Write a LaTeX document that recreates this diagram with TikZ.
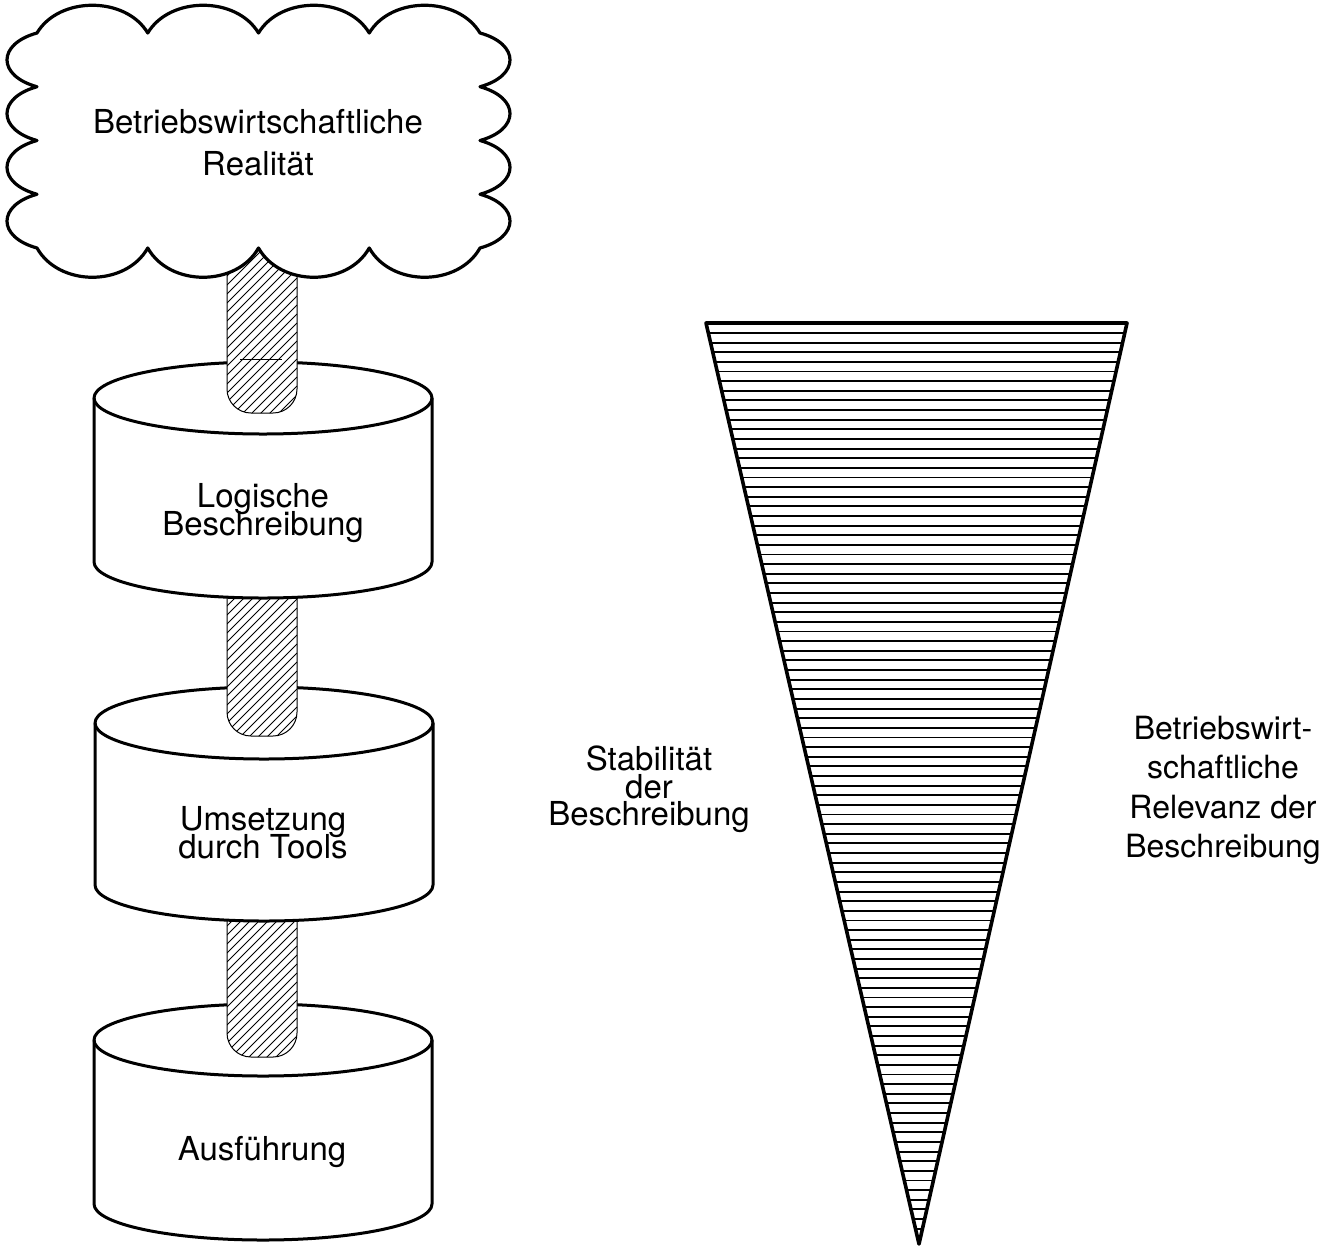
\documentclass[tikz,border=0pt]{standalone}
\usepackage{fontspec}
\setmainfont{TeX Gyre Heros}
\tikzset{
  outline/.style={line width=1.5pt, draw=black, line join=round},
  thinline/.style={line width=0.5pt, draw=black},
  stripe/.style={line width=0.95pt, draw=black},
  boxtext/.style={inner sep=0pt, anchor=base, font=\fontsize{16.5}{19}\selectfont},
  sidetext/.style={inner sep=0pt, anchor=base, font=\fontsize{16}{19}\selectfont},
  pillarshape/.style n args={2}{insert path={
    (227,#1) -- (227,#2-24) arc[start angle=180, end angle=90, radius=24]
    -- (273,#2) arc[start angle=90, end angle=0, radius=24] -- (297,#1) -- cycle}},
}
% cylinder: centre x, top ellipse y, bottom ellipse y
\newcommand\drum[3]{%
  \filldraw[outline, fill=white] (#1-169,#2) -- (#1-169,#3)
    arc[start angle=180, end angle=0, x radius=169, y radius=36]
    -- (#1+169,#2)
    arc[start angle=0, end angle=-180, x radius=169, y radius=36] -- cycle;
  \draw[outline] (#1-169,#2) arc[start angle=180, end angle=0, x radius=169, y radius=36];
}
% hatched shaft: top y, bottom y
\newcommand\shaft[2]{%
  \fill[white, pillarshape={#1}{#2}];
  \begin{scope}
    \clip[pillarshape={#1}{#2}];
    \foreach \k in {0,...,30}
      \draw[thinline] (227,{#1+\k*9}) -- (297,{#1+\k*9-70});
  \end{scope}
  \draw[thinline] (227,#1) -- (227,#2-24) arc[start angle=180, end angle=90, radius=24]
    -- (273,#2) arc[start angle=90, end angle=0, radius=24] -- (297,#1);
}
\begin{document}
\begin{tikzpicture}[x=0.5pt, y=-0.5pt]
\useasboundingbox (0,0) rectangle (1336,1248);

% striped wedge
\coordinate (wl) at (706,323);
\coordinate (wr) at (1127,323);
\coordinate (wa) at (919,1244);
\begin{scope}
  \clip (wl) -- (wr) -- (wa) -- cycle;
  \foreach \k in {0,...,93}
    \draw[stripe] (690,{333+\k*9.63}) -- (1140,{333+\k*9.63});
\end{scope}
\draw[outline, line width=1.8pt] (wl) -- (wr) -- (wa) -- cycle;

% stack of layers, drawn from the bottom up
\drum{263}{1040}{1204}
\shaft{890}{1057}
\drum{264}{723}{885}
\shaft{570}{736}
\drum{263}{398}{562}
\shaft{240}{413}
\draw[thinline] (240,359) -- (282,359);

% cloud
\filldraw[outline, line width=1.6pt, fill=white] (37,33)
  \foreach \i in {0,...,3}{
    .. controls ({37+\i*110.75+22},-4) and ({37+(\i+1)*110.75-22},-4) .. ({37+(\i+1)*110.75},33) }
  \foreach \i in {0,...,3}{
    .. controls (520,{33+\i*53.75+11}) and (520,{33+(\i+1)*53.75-11}) .. (480,{33+(\i+1)*53.75}) }
  \foreach \i in {0,...,3}{
    .. controls ({480-\i*110.75-22},287) and ({480-(\i+1)*110.75+22},287) .. ({480-(\i+1)*110.75},248) }
  \foreach \i in {0,...,3}{
    .. controls (-3,{248-\i*53.75-11}) and (-3,{248-(\i+1)*53.75+11}) .. (37,{248-(\i+1)*53.75}) }
  -- cycle;

% texts
\node[boxtext] (c1) at (258,133) {Betriebswirtschaftliche};
\node[boxtext] (c2) at (258,175) {Realität};
\node[boxtext] (l1) at (263,507) {Logische};
\node[boxtext] (l2) at (263,535) {Beschreibung};
\node[boxtext] (u1) at (263,830) {Umsetzung};
\node[boxtext] (u2) at (263,858) {durch Tools};
\node[boxtext] (a1) at (262,1160) {Ausführung};
\node[boxtext] (s1) at (649,770) {Stabilität};
\node[boxtext] (s2) at (649,798) {der};
\node[boxtext] (s3) at (649,825) {Beschreibung};
\node[sidetext] (r1) at (1223,739) {Betriebswirt-};
\node[sidetext] (r2) at (1223,778) {schaftliche};
\node[sidetext] (r3) at (1223,818) {Relevanz der};
\node[sidetext] (r4) at (1223,857) {Beschreibung};
\end{tikzpicture}
\end{document}
